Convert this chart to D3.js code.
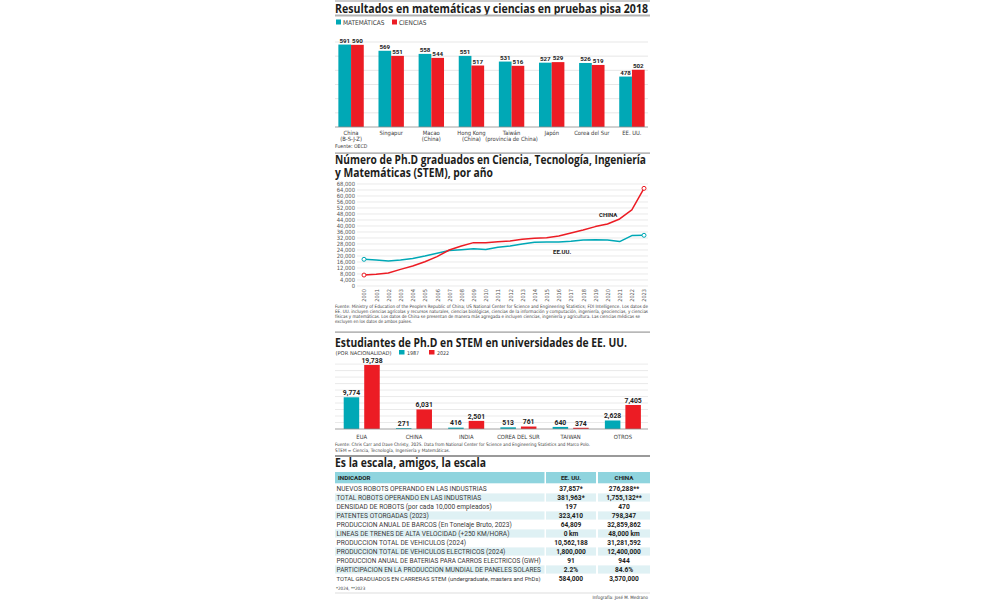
<!DOCTYPE html>
<html>
<head>
<meta charset="utf-8">
<script src="https://cdn.jsdelivr.net/npm/d3@7"></script>
<style>
  body { margin: 0; background: #fff; }
  svg { display: block; }
</style>
</head>
<body>
<div id="chart"></div>
<script>
// ---- data ----
const pisaLabels = [["China", "(B-S-J-Z)"], ["Singapur"], ["Macao", "(China)"], ["Hong Kong", "(China)"],
  ["Taiwán", "(provincia de China)"], ["Japón"], ["Corea del Sur"], ["EE. UU."]];
const pisaMath = [591, 569, 558, 551, 531, 527, 526, 478];
const pisaScience = [590, 551, 544, 517, 516, 529, 519, 502];
const pisaTicks = [350, 400, 450, 500, 550, 600];

const phdYears = [2000, 2001, 2002, 2003, 2004, 2005, 2006, 2007, 2008, 2009, 2010, 2011,
  2012, 2013, 2014, 2015, 2016, 2017, 2018, 2019, 2020, 2021, 2022, 2023];
const phdChina = [7300, 7800, 8700, 11100, 13300, 16200, 19600, 24000, 26700, 28900, 28900, 29500,
  30000, 31100, 31800, 32200, 33300, 35300, 37300, 39600, 41300, 44700, 50700, 65100];
const phdUS = [17800, 17300, 16700, 17300, 18400, 20000, 21800, 23600, 24200, 24900, 24400, 25800,
  26700, 28000, 29100, 29300, 29300, 29800, 30700, 30900, 30700, 29600, 33600, 33800];
const phdTicks = [0, 4000, 8000, 12000, 16000, 20000, 24000, 28000, 32000, 36000, 40000, 44000,
  48000, 52000, 56000, 60000, 64000, 68000];

const stemCountries = ["EUA", "CHINA", "INDIA", "COREA DEL SUR", "TAIWAN", "OTROS"];
const stem1987 = [9774, 271, 416, 513, 640, 2628];
const stem2022 = [19738, 6031, 2501, 761, 374, 7405];
const stemTicks = [2000, 4000, 6000, 8000, 10000, 12000, 14000, 16000, 18000, 20000];

const indicators = [
  "NUEVOS ROBOTS OPERANDO EN LAS INDUSTRIAS",
  "TOTAL ROBOTS OPERANDO EN LAS INDUSTRIAS",
  "DENSIDAD DE ROBOTS (por cada 10,000 empleados)",
  "PATENTES OTORGADAS (2023)",
  "PRODUCCION ANUAL DE BARCOS (En Tonelaje Bruto, 2023)",
  "LINEAS DE TRENES DE ALTA VELOCIDAD (+250 KM/HORA)",
  "PRODUCCION TOTAL DE VEHICULOS (2024)",
  "PRODUCCION TOTAL DE VEHICULOS ELECTRICOS (2024)",
  "PRODUCCION ANUAL DE BATERIAS PARA CARROS ELECTRICOS (GWH)",
  "PARTICIPACION EN LA PRODUCCION MUNDIAL DE PANELES SOLARES",
  "TOTAL GRADUADOS EN CARRERAS STEM (undergraduate, masters and PhDs)"
];
const usValues = ["37,857*", "381,963*", "197", "323,410", "64,809", "0 km", "10,562,188",
  "1,800,000", "91", "2.2%", "584,000"];
const chinaValues = ["276,288**", "1,755,132**", "470", "798,347", "32,859,862", "48,000 km",
  "31,281,592", "12,400,000", "944", "84.6%", "3,570,000"];

// ---- setup ----
const TEAL = "#00a8b6";
const RED = "#ec1c24";
const GRID = "#dcdcdc";
const TITLE_FONT = "'Open Sans', 'DejaVu Sans', sans-serif";
const NARROW = "'Liberation Sans Narrow', 'DejaVu Sans Condensed', 'Roboto', sans-serif";
const NUM_FONT = "Roboto, 'Open Sans', sans-serif";
const L = 335, R = 650;

const svg = d3.select("#chart")
  .append("svg")
  .attr("width", 1000)
  .attr("height", 600);

function rule(y, h, color) {
  svg.append("rect")
    .attr("x", L).attr("y", y)
    .attr("width", R - L).attr("height", h)
    .attr("fill", color);
}

// lines: [[text, baselineY, width], ...] -> one text element
function title(lines, size = 12.5) {
  svg.append("text")
    .style("font-family", TITLE_FONT)
    .style("font-weight", 700)
    .style("font-size", size + "px")
    .style("fill", "#1d1d1b")
    .selectAll("tspan")
    .data(lines)
    .join("tspan")
    .attr("x", L)
    .attr("y", d => d[1])
    .attr("textLength", d => d[2])
    .attr("lengthAdjust", "spacingAndGlyphs")
    .text(d => d[0]);
}

function small(text, x, y, size, opts = {}) {
  const t = svg.append("text")
    .attr("x", x).attr("y", y)
    .attr("text-anchor", opts.anchor || "start")
    .style("font-family", opts.font || NARROW)
    .style("font-weight", opts.bold ? 700 : 400)
    .style("font-size", size + "px")
    .style("fill", opts.color || "#3a3a3a")
    .text(text);
  if (opts.len) t.attr("textLength", opts.len).attr("lengthAdjust", "spacingAndGlyphs");
  return t;
}

// ===== Section 1: PISA =====
rule(0.5, 1, "#9a9a9a");
title([["Resultados en matemáticas y ciencias en pruebas pisa 2018", 13, 313]]);
rule(14.5, 2, "#b4b4b4");

svg.append("rect").attr("x", 336).attr("y", 19.5).attr("width", 5).attr("height", 5).attr("fill", TEAL);
small("MATEMÁTICAS", 343, 24.5, 6.5);
svg.append("rect").attr("x", 392).attr("y", 19.5).attr("width", 5).attr("height", 5).attr("fill", RED);
small("CIENCIAS", 399, 24.5, 6.5);

const pisaKeys = pisaLabels.map(d => d.join(" "));
const x0 = d3.scaleBand().domain(pisaKeys).range([331, 652]);
const x1 = d3.scaleBand().domain(["mat", "cie"]).range([0, x0.bandwidth()]).paddingOuter(0.58);
const y1 = d3.scaleLinear().domain([300, 600]).range([127, 42]);

svg.append("g").selectAll("line")
  .data(pisaTicks)
  .join("line")
  .attr("x1", L).attr("x2", 648)
  .attr("y1", d => y1(d)).attr("y2", d => y1(d))
  .attr("stroke", GRID).attr("stroke-width", 0.7);

const pisaRows = pisaKeys.map((k, i) => ({ key: k, lines: pisaLabels[i], mat: pisaMath[i], cie: pisaScience[i] }));

const pg = svg.append("g").selectAll("g")
  .data(pisaRows)
  .join("g")
  .attr("transform", d => `translate(${x0(d.key)},0)`);

[["mat", TEAL], ["cie", RED]].forEach(([k, c]) => {
  pg.append("rect")
    .attr("x", x1(k))
    .attr("y", d => y1(d[k]))
    .attr("width", x1.bandwidth())
    .attr("height", d => y1(300) - y1(d[k]))
    .attr("fill", c);
  pg.append("text")
    .attr("x", x1(k) + x1.bandwidth() / 2)
    .attr("y", d => y1(d[k]) - 2)
    .attr("text-anchor", "middle")
    .style("font-family", NUM_FONT)
    .style("font-weight", 700)
    .style("font-size", "6.2px")
    .style("fill", "#222")
    .text(d => d[k]);
});

pg.append("text")
  .attr("text-anchor", "middle")
  .style("font-family", NARROW)
  .style("font-size", "5.8px")
  .style("fill", "#3a3a3a")
  .selectAll("tspan")
  .data(d => d.lines)
  .join("tspan")
  .attr("x", x0.bandwidth() / 2)
  .attr("y", (d, i) => 134.5 + i * 6.3)
  .text(d => d);

svg.append("line")
  .attr("x1", L).attr("x2", 648).attr("y1", 127).attr("y2", 127)
  .attr("stroke", "#8a8a8a").attr("stroke-width", 0.8);

small("Fuente: OECD", 335, 148, 5.2);

// ===== Section 2: PhD line chart =====
rule(152.5, 1.2, "#9a9a9a");
title([
  ["Número de Ph.D graduados en Ciencia, Tecnología, Ingeniería", 164, 311],
  ["y Matemáticas (STEM), por año", 176.5, 158]
], 11.8);

const xL = d3.scalePoint().domain(phdYears).range([364, 644]);
const yL = d3.scaleLinear().domain([0, 68000]).range([286, 184]);

svg.append("g").selectAll("line")
  .data(phdTicks)
  .join("line")
  .attr("x1", 357).attr("x2", 648)
  .attr("y1", d => yL(d)).attr("y2", d => yL(d))
  .attr("stroke", GRID).attr("stroke-width", 0.6);

const yAxisL = svg.append("g")
  .attr("transform", "translate(355,0)")
  .call(d3.axisLeft(yL).tickValues(phdTicks).tickFormat(d3.format(",")).tickSize(0).tickPadding(0));
yAxisL.select(".domain").remove();
yAxisL.selectAll("text")
  .style("font-family", NARROW)
  .style("font-size", "5.8px")
  .style("fill", "#555");

const xAxisL = svg.append("g")
  .attr("transform", "translate(0,288)")
  .call(d3.axisBottom(xL).tickSize(0).tickFormat(d3.format("d")));
xAxisL.select(".domain").remove();
xAxisL.selectAll("text")
  .attr("transform", "rotate(-90)")
  .attr("text-anchor", "end")
  .attr("x", -1)
  .attr("y", 0)
  .attr("dy", "0.35em")
  .style("font-family", NARROW)
  .style("font-size", "5.6px")
  .style("fill", "#555");

const line = d3.line()
  .x((d, i) => xL(phdYears[i]))
  .y(d => yL(d));

[[phdUS, TEAL], [phdChina, RED]].forEach(([vals, c]) => {
  svg.append("path")
    .datum(vals)
    .attr("d", line)
    .attr("fill", "none")
    .attr("stroke", c)
    .attr("stroke-width", 1.5)
    .attr("stroke-linejoin", "round");
  svg.append("g").selectAll("circle")
    .data([0, vals.length - 1])
    .join("circle")
    .attr("cx", i => xL(phdYears[i]))
    .attr("cy", i => yL(vals[i]))
    .attr("r", 2)
    .attr("fill", "#fff")
    .attr("stroke", c)
    .attr("stroke-width", 1);
});

small("CHINA", 599, 216.5, 6, { bold: true, font: NUM_FONT, color: "#222" });
small("EE.UU.", 553, 254, 6, { bold: true, font: NUM_FONT, color: "#222" });

const phdSource = [
  "Fuente: Ministry of Education of the People's Republic of China; US National Center for Science and Engineering Statistics; FDI Intelligence. Los datos de",
  "EE. UU. incluyen ciencias agrícolas y recursos naturales, ciencias biológicas, ciencias de la información y computación, ingeniería, geociencias, y ciencias",
  "físicas y matemáticas. Los datos de China se presentan de manera más agregada e incluyen ciencias, ingeniería y agricultura. Las ciencias médicas se",
  "excluyen en los datos de ambos países."
];
const srcLens = [313, 313, 305, 77];
phdSource.forEach((s, i) => small(s, 335, 308 + i * 5, 4.6, { len: srcLens[i] }));

// ===== Section 3: PhD students in the US =====
rule(331.5, 1.2, "#9a9a9a");
title([["Estudiantes de Ph.D en STEM en universidades de EE. UU.", 347, 292]]);

small("(POR NACIONALIDAD)", 335.5, 354.5, 5.3, { len: 56 });
svg.append("rect").attr("x", 399).attr("y", 350).attr("width", 5.5).attr("height", 4.5).attr("fill", TEAL);
small("1987", 407, 354.5, 5.3);
svg.append("rect").attr("x", 429).attr("y", 350).attr("width", 5.5).attr("height", 4.5).attr("fill", RED);
small("2022", 437, 354.5, 5.3);

const xS = d3.scaleBand().domain(stemCountries).range([335.6, 649]);
const xS1 = d3.scaleBand().domain(["y1987", "y2022"]).range([0, xS.bandwidth()])
  .paddingInner(0.244).paddingOuter(0.395);
const yS = d3.scaleLinear().domain([0, 20000]).range([429, 364.1]);

svg.append("g").selectAll("line")
  .data(stemTicks)
  .join("line")
  .attr("x1", L).attr("x2", 648)
  .attr("y1", d => yS(d)).attr("y2", d => yS(d))
  .attr("stroke", GRID).attr("stroke-width", 0.6);

const stemRows = stemCountries.map((c, i) => ({ country: c, y1987: stem1987[i], y2022: stem2022[i] }));
const sg = svg.append("g").selectAll("g")
  .data(stemRows)
  .join("g")
  .attr("transform", d => `translate(${xS(d.country)},0)`);

[["y1987", TEAL], ["y2022", RED]].forEach(([k, c]) => {
  sg.append("rect")
    .attr("x", xS1(k))
    .attr("y", d => yS(d[k]))
    .attr("width", xS1.bandwidth())
    .attr("height", d => yS(0) - yS(d[k]))
    .attr("fill", c);
  sg.append("text")
    .attr("x", xS1(k) + xS1.bandwidth() / 2)
    .attr("y", d => yS(d[k]) - 2.2)
    .attr("text-anchor", "middle")
    .style("font-family", NUM_FONT)
    .style("font-weight", 700)
    .style("font-size", "6.8px")
    .style("fill", "#222")
    .text(d => d3.format(",")(d[k]));
});

sg.append("text")
  .attr("x", xS.bandwidth() / 2)
  .attr("y", 438.5)
  .attr("text-anchor", "middle")
  .style("font-family", NARROW)
  .style("font-size", "5.8px")
  .style("fill", "#3a3a3a")
  .text(d => d.country);

svg.append("line")
  .attr("x1", L).attr("x2", 648).attr("y1", 429).attr("y2", 429)
  .attr("stroke", "#8a8a8a").attr("stroke-width", 0.8);

small("Fuente: Chris Carr and Dave Christy, 2025. Data from National Center for Science and Engineering Statistics and Marco Polo.", 335, 446, 4.6, { len: 255 });
small("STEM = Ciencia, Tecnología, Ingeniería y Matemáticas.", 335, 452, 4.6, { len: 115 });

// ===== Section 4: table =====
rule(455, 2, "#9a9a9a");
title([["Es la escala, amigos, la escala", 467, 151]]);

const cols = [
  { x: 335, w: 209.5 },
  { x: 546, w: 50 },
  { x: 598, w: 52 }
];
const rowY = d3.scaleBand().domain(d3.range(indicators.length)).range([484, 583]);

cols.forEach(c => {
  svg.append("rect").attr("x", c.x).attr("y", 472).attr("width", c.w).attr("height", 11.3).attr("fill", "#8fd4de");
});
small("INDICADOR", 338, 480.3, 6.2, { bold: true, font: NUM_FONT, color: "#1d1d1b" });
small("EE. UU.", cols[1].x + cols[1].w / 2, 480.3, 6.2, { bold: true, font: NUM_FONT, color: "#1d1d1b", anchor: "middle" });
small("CHINA", cols[2].x + cols[2].w / 2, 480.3, 6.2, { bold: true, font: NUM_FONT, color: "#1d1d1b", anchor: "middle" });

const tableRows = indicators.map((name, i) => ({ i, name, us: usValues[i], cn: chinaValues[i] }));
const tr = svg.append("g").selectAll("g")
  .data(tableRows)
  .join("g")
  .attr("transform", d => `translate(0,${rowY(d.i)})`);

cols.forEach(c => {
  tr.filter(d => d.i % 2 === 1)
    .append("rect")
    .attr("x", c.x).attr("y", 0.4)
    .attr("width", c.w).attr("height", rowY.bandwidth() - 0.8)
    .attr("fill", "#dff1f4");
});

// indicator names: shrink any that would run past the first column
const nameSize = 6.6;
const maxNameW = cols[0].w - 5;
tr.append("text")
  .attr("x", 336.5)
  .attr("y", rowY.bandwidth() / 2 + 2.1)
  .style("font-family", NUM_FONT)
  .style("font-size", nameSize + "px")
  .style("fill", "#3a3a3a")
  .text(d => d.name)
  .each(function() {
    const w = this.getComputedTextLength();
    if (w > maxNameW) d3.select(this).style("font-size", (nameSize * maxNameW / w) + "px");
  });

[["us", cols[1]], ["cn", cols[2]]].forEach(([k, c]) => {
  tr.append("text")
    .attr("x", c.x + c.w / 2)
    .attr("y", rowY.bandwidth() / 2 + 2.3)
    .attr("text-anchor", "middle")
    .style("font-family", NUM_FONT)
    .style("font-weight", 700)
    .style("font-size", "6.6px")
    .style("fill", "#1d1d1b")
    .text(d => d[k]);
});

small("*2024, **2023", 336, 590, 4.5);
svg.append("line")
  .attr("x1", L).attr("x2", R).attr("y1", 593).attr("y2", 593)
  .attr("stroke", "#cfcfcf").attr("stroke-width", 0.7);
small("Infografía: José M. Medrano", 648, 599, 4.5, { anchor: "end" });
</script>
</body>
</html>
